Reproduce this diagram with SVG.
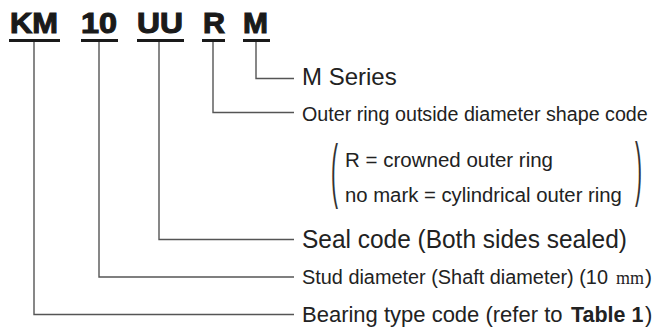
<svg xmlns="http://www.w3.org/2000/svg" width="654" height="329" viewBox="0 0 654 329">
<style>
.code{font-family:"Liberation Sans",Arial,sans-serif;font-weight:bold;font-size:29px;fill:#1a1a1a;stroke:#1a1a1a;stroke-width:1.1px}
.ul{stroke:#1a1a1a;stroke-width:3;fill:none}
.ln{stroke:#555;stroke-width:1.4;fill:none}
.lbl{font-family:"Liberation Sans",Arial,sans-serif;fill:#222}
.ser{font-family:"Liberation Serif","Times New Roman",serif;fill:#222}
.par{font-family:"Liberation Sans",Arial,sans-serif;fill:#333;font-size:70px}
</style>
<rect width="654" height="329" fill="#fff"/>
<g id="code-KM"><text class="code" x="10" y="33" textLength="48" lengthAdjust="spacingAndGlyphs">KM</text><line class="ul" x1="9" y1="40.5" x2="60" y2="40.5"/></g>
<g id="code-10"><text class="code" x="81" y="33" textLength="36" lengthAdjust="spacingAndGlyphs">10</text><line class="ul" x1="81" y1="40.5" x2="118" y2="40.5"/></g>
<g id="code-UU"><text class="code" x="137" y="33" textLength="46" lengthAdjust="spacingAndGlyphs">UU</text><line class="ul" x1="137" y1="40.5" x2="184" y2="40.5"/></g>
<g id="code-R"><text class="code" x="203" y="33" textLength="22" lengthAdjust="spacingAndGlyphs">R</text><line class="ul" x1="202" y1="40.5" x2="225" y2="40.5"/></g>
<g id="code-M"><text class="code" x="243" y="33" textLength="25" lengthAdjust="spacingAndGlyphs">M</text><line class="ul" x1="243" y1="40.5" x2="270" y2="40.5"/></g>
<g id="connectors">
<polyline class="ln" points="256,42 256,78.5 294,78.5"/>
<polyline class="ln" points="213,42 213,112.5 294,112.5"/>
<polyline class="ln" points="159,42 159,239.5 294,239.5"/>
<polyline class="ln" points="99,42 99,277 294,277"/>
<polyline class="ln" points="34,42 34,314.5 294,314.5"/>
</g>
<g id="label-M"><text class="lbl" x="302" y="85" font-size="24">M Series</text></g>
<g id="label-R">
<text class="lbl" font-size="21" transform="translate(302,121) scale(0.938,1)">Outer ring outside diameter shape code</text>
<text class="par" transform="translate(331,194) scale(0.3,1)">(</text>
<text class="lbl" font-size="21" transform="translate(345,167) scale(0.977,1)">R = crowned outer ring</text>
<text class="lbl" font-size="21" transform="translate(345,202) scale(0.967,1)">no mark = cylindrical outer ring</text>
<text class="par" transform="translate(635,192) scale(0.3,1)">)</text>
</g>
<g id="label-UU"><text class="lbl" font-size="25" transform="translate(302,248) scale(0.979,1)">Seal code (Both sides sealed)</text></g>
<g id="label-10">
<text class="lbl" font-size="21" transform="translate(302,284) scale(0.947,1)">Stud diameter (Shaft diameter) (10</text>
<text class="ser" x="616" y="284" font-size="18">mm</text>
<text class="lbl" x="645" y="284" font-size="21">)</text>
</g>
<g id="label-KM">
<text class="lbl" x="302" y="322" font-size="22">Bearing type code (refer to</text>
<text class="lbl" font-size="22" font-weight="bold" transform="translate(571,322) scale(0.976,1)">Table 1</text>
<text class="lbl" x="645" y="322" font-size="22">)</text>
</g>
</svg>
